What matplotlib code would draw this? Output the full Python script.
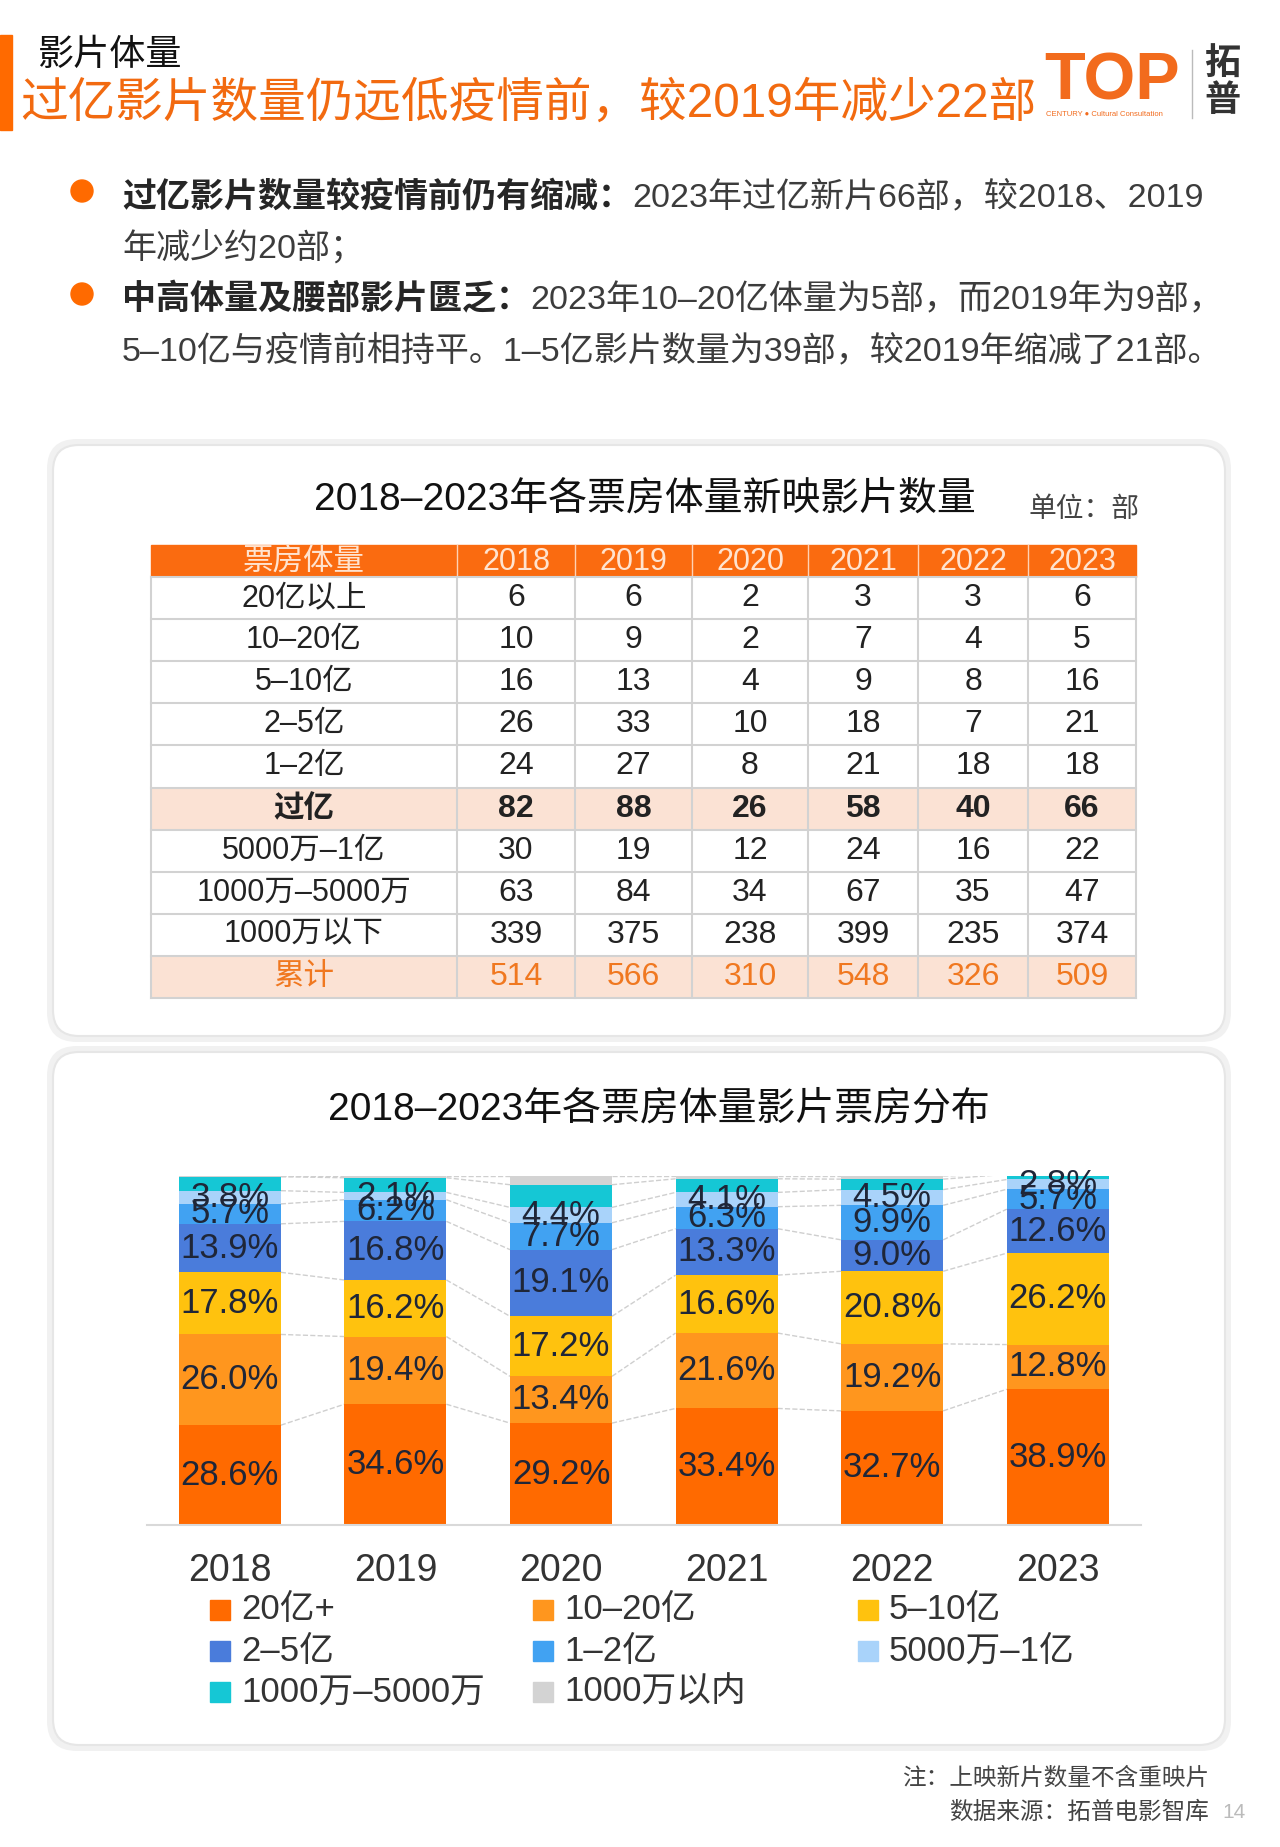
import numpy as np
import matplotlib
matplotlib.use('Agg')
import matplotlib.pyplot as plt
from matplotlib.patches import Rectangle, FancyBboxPatch, Circle

plt.rcParams['font.family'] = ['Liberation Sans', 'Noto Sans CJK SC', 'DejaVu Sans']

# ---- data ----
years = ['2018', '2019', '2020', '2021', '2022', '2023']

# table: number of new films per box office tier
row_names = ['20亿以上', '10–20亿', '5–10亿', '2–5亿', '1–2亿', '过亿',
             '5000万–1亿', '1000万–5000万', '1000万以下', '累计']
n_20plus = [6, 6, 2, 3, 3, 6]
n_10_20 = [10, 9, 2, 7, 4, 5]
n_5_10 = [16, 13, 4, 9, 8, 16]
n_2_5 = [26, 33, 10, 18, 7, 21]
n_1_2 = [24, 27, 8, 21, 18, 18]
n_over_1 = [82, 88, 26, 58, 40, 66]
n_5000w_1 = [30, 19, 12, 24, 16, 22]
n_1000w_5000w = [63, 84, 34, 67, 35, 47]
n_under_1000w = [339, 375, 238, 399, 235, 374]
n_total = [514, 566, 310, 548, 326, 509]

# bar chart: share of box office (%)
seg_names = ['20亿+', '10–20亿', '5–10亿', '2–5亿', '1–2亿', '5000万–1亿',
             '1000万–5000万', '1000万以内']
share_20plus = [28.6, 34.6, 29.2, 33.4, 32.7, 38.9]
share_10_20 = [26.0, 19.4, 13.4, 21.6, 19.2, 12.8]
share_5_10 = [17.8, 16.2, 17.2, 16.6, 20.8, 26.2]
share_2_5 = [13.9, 16.8, 19.1, 13.3, 9.0, 12.6]
share_1_2 = [5.7, 6.2, 7.7, 6.3, 9.9, 5.7]
share_5000w_1 = [3.8, 2.1, 4.4, 4.1, 4.5, 2.8]
share_1000w_5000w = [4.0, 4.2, 6.5, 3.9, 3.0, 1.5]   # not labelled, estimated
share_under_1000w = [0.2, 0.5, 2.5, 0.8, 0.9, 0.0]  # not labelled, estimated

seg_colors = ['#FF6A00', '#FF961E', '#FFC20E', '#4A7CDB', '#41A2F2',
              '#A9D3FA', '#15C7D5', '#D3D3D3']
ORANGE = '#FF6A00'

fig = plt.figure(figsize=(12.8, 18.47), dpi=100)
fig.patch.set_facecolor('white')

# background axes in pixel coordinates (y down)
bg = fig.add_axes([0, 0, 1, 1])
bg.set_xlim(0, 1280)
bg.set_ylim(1847, 0)
bg.axis('off')
renderer = fig.canvas.get_renderer()

# ---- header ----
bg.add_patch(Rectangle((0, 35), 12, 95, color=ORANGE))
bg.text(38, 55, '影片体量', fontsize=26, color='#111', va='center')
bg.text(20, 104, '过亿影片数量仍远低疫情前，较2019年减少22部', fontsize=34.3,
        color='#F26A10', va='center')
bg.text(1044, 82, 'TOP', fontsize=48, fontweight='bold', color='#F26B1D', va='center')
bg.text(1046, 114, 'CENTURY ● Cultural Consultation', fontsize=5.5, color='#F26B1D', va='center')
bg.plot([1192, 1192], [50, 118], color='#bbbbbb', lw=1)
bg.text(1222, 65, '拓', fontsize=26, fontweight='bold', color='#333', va='center', ha='center')
bg.text(1222, 102, '普', fontsize=26, fontweight='bold', color='#333', va='center', ha='center')


def draw_runs(x, y, runs, size):
    for s, w, c in runs:
        t = bg.text(x, y, s, fontsize=size, fontweight=w, color=c, va='center', ha='left')
        x += t.get_window_extent(renderer=renderer).width


# bullets
for by in [191, 294]:
    bg.add_patch(Circle((82, by), 11, color=ORANGE))
draw_runs(122, 197, [('过亿影片数量较疫情前仍有缩减：', 'bold', '#262626'),
                     ('2023年过亿新片66部，较2018、2019', 'normal', '#3c3c3c')], 24.5)
draw_runs(122, 247, [('年减少约20部；', 'normal', '#3c3c3c')], 24.5)
draw_runs(122, 300, [('中高体量及腰部影片匮乏：', 'bold', '#262626'),
                     ('2023年10–20亿体量为5部，而2019年为9部，', 'normal', '#3c3c3c')], 24.5)
draw_runs(122, 351, [('5–10亿与疫情前相持平。1–5亿影片数量为39部，较2019年缩减了21部。',
                      'normal', '#3c3c3c')], 24.5)

# ---- cards ----
for (x0, y0, x1, y1) in [(53, 445, 1225, 1036), (53, 1052, 1225, 1745)]:
    bg.add_patch(FancyBboxPatch((x0 - 6, y0 - 6), x1 - x0 + 12, y1 - y0 + 12,
                                boxstyle='round,pad=0,rounding_size=30',
                                fc='#f1f1f1', ec='none'))
    bg.add_patch(FancyBboxPatch((x0, y0), x1 - x0, y1 - y0,
                                boxstyle='round,pad=0,rounding_size=26',
                                fc='white', ec='#e6e6e6', lw=1.5))

# ---- table ----
bg.text(645, 499, '2018–2023年各票房体量新映影片数量', fontsize=28, color='#111',
        va='center', ha='center')
bg.text(1028, 510, '单位：部', fontsize=20, color='#444', va='center')

col_x = [151, 457, 575, 692, 808, 918, 1028, 1136]
head_top, head_bot = 545, 577
row_h = 42.1
table_rows = [n_20plus, n_10_20, n_5_10, n_2_5, n_1_2, n_over_1,
              n_5000w_1, n_1000w_5000w, n_under_1000w, n_total]

bg.add_patch(Rectangle((col_x[0], head_top), col_x[-1] - col_x[0], head_bot - head_top,
                       color='#FA6B10', zorder=2))
head_labels = ['票房体量'] + years
for j, lab in enumerate(head_labels):
    cx = (col_x[j] + col_x[j + 1]) / 2
    bg.text(cx, (head_top + head_bot) / 2 + 1, lab, fontsize=22, color='#FFE3CF',
            ha='center', va='center', zorder=4)
    if j > 0:
        bg.plot([col_x[j], col_x[j]], [head_top, head_bot], color='#ffd2b5', lw=1, zorder=3)

for i, (name, vals) in enumerate(zip(row_names, table_rows)):
    y0 = head_bot + i * row_h
    shaded = name in ('过亿', '累计')
    bg.add_patch(Rectangle((col_x[0], y0), col_x[-1] - col_x[0], row_h,
                           fc='#FBE2D4' if shaded else 'white', ec='none', zorder=2))
    color = '#F07820' if name == '累计' else '#222'
    weight = 'bold' if name == '过亿' else 'normal'
    cy = y0 + row_h / 2
    bg.text((col_x[0] + col_x[1]) / 2, cy, name, fontsize=22, color=color,
            fontweight=weight, ha='center', va='center', zorder=4)
    for j, v in enumerate(vals):
        cx = (col_x[j + 1] + col_x[j + 2]) / 2
        bg.text(cx, cy, str(v), fontsize=23, color=color, fontweight=weight,
                ha='center', va='center', zorder=4)

tab_bot = head_bot + len(table_rows) * row_h
for i in range(len(table_rows) + 1):
    y = head_bot + i * row_h
    bg.plot([col_x[0], col_x[-1]], [y, y], color='#d2d2d2', lw=1.5, zorder=3)
for x in col_x:
    bg.plot([x, x], [head_bot, tab_bot], color='#d2d2d2', lw=1.5, zorder=3)

# ---- stacked bar chart ----
bg.text(659, 1109, '2018–2023年各票房体量影片票房分布', fontsize=28, color='#111',
        va='center', ha='center')

shares = [share_20plus, share_10_20, share_5_10, share_2_5, share_1_2,
          share_5000w_1, share_1000w_5000w, share_under_1000w]
step = 165.6
ax = fig.add_axes([147 / 1280, 1 - 1525 / 1847, 6 * step / 1280, 349 / 1847])
ax.set_facecolor('none')
x = np.arange(len(years))
w = 0.616
bottom = np.zeros(len(years))
bounds = []
for k, (vals, col) in enumerate(zip(shares, seg_colors)):
    vals = np.array(vals)
    ax.bar(x, vals, w, bottom=bottom, color=col, zorder=2)
    if k < 6:
        for xi, b, v in zip(x, bottom, vals):
            ax.text(xi, b + v / 2, f'{v:.1f}%', fontsize=25, color='#1f2638',
                    ha='center', va='center', zorder=4)
    bottom = bottom + vals
    bounds.append(bottom.copy())

# dashed connectors between neighbouring bars
for cum in bounds:
    for i in range(len(years) - 1):
        ax.plot([x[i] + w / 2, x[i + 1] - w / 2], [cum[i], cum[i + 1]],
                ls='--', color='#cfcfcf', lw=1, zorder=1)

ax.set_xlim(-0.5, 5.5)
ax.set_ylim(0, 100)
ax.set_yticks([])
ax.set_xticks(x)
ax.set_xticklabels(years)
ax.tick_params(axis='x', length=0, pad=20, labelsize=27, labelcolor='#333')
for s in ['top', 'left', 'right']:
    ax.spines[s].set_visible(False)
ax.spines['bottom'].set_color('#d9d9d9')
ax.spines['bottom'].set_linewidth(1.5)

# legend, row by row
leg_x = [210, 533, 858]
leg_y = [1610, 1651, 1692]
for k, (name, col) in enumerate(zip(seg_names, seg_colors)):
    r, c = divmod(k, 3)
    bg.add_patch(Rectangle((leg_x[c], leg_y[r] - 10), 20, 20, color=col))
    bg.text(leg_x[c] + 31, leg_y[r], name, fontsize=25, color='#333', va='center')

# ---- footer ----
bg.text(1209, 1779, '注：上映新片数量不含重映片', fontsize=17, color='#444',
        ha='right', va='center')
bg.text(1209, 1813, '数据来源：拓普电影智库', fontsize=17, color='#444',
        ha='right', va='center')
bg.text(1222, 1813, '14', fontsize=15, color='#bbbbbb', va='center')

fig.savefig('out.png', dpi=100)
